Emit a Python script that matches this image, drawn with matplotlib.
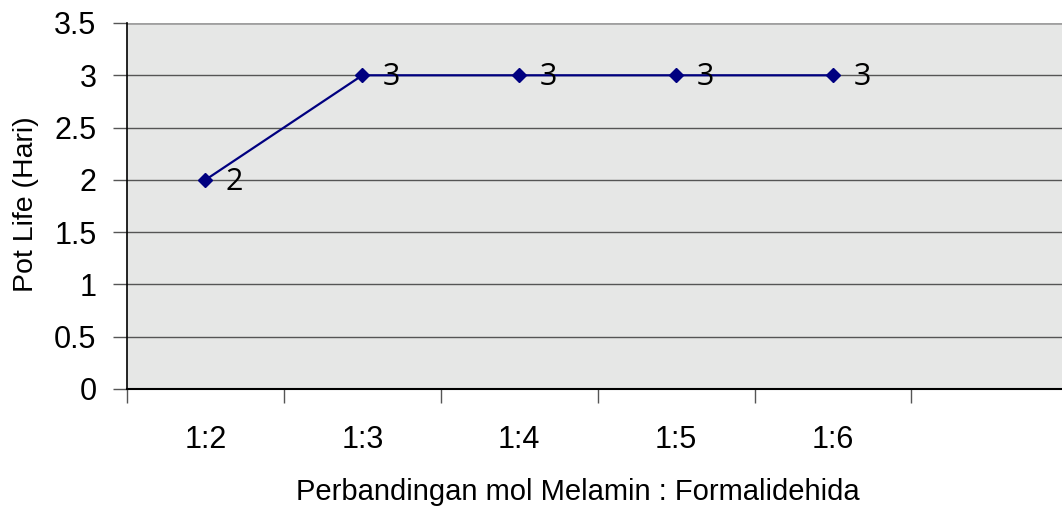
import numpy as np
import matplotlib.pyplot as plt

# data
ratios = ['1:2', '1:3', '1:4', '1:5', '1:6']
pot_life = [2, 3, 3, 3, 3]

plt.rcParams['font.family'] = ['Liberation Sans', 'DejaVu Sans']

fig = plt.figure(figsize=(10.62, 5.09), dpi=100)
ax = fig.add_axes([127 / 1062, 1 - 389 / 509, 1 - 127 / 1062, (389 - 23) / 509])
ax.set_facecolor('#e6e7e6')

x = np.arange(len(ratios))
ax.plot(x, pot_life, color='#000080', lw=1.6, marker='D', markersize=7.5, zorder=3)

for xi, yi in zip(x, pot_life):
    ax.text(xi + 0.185, yi - 0.02, str(yi), fontsize=22, family=['Open Sans', 'DejaVu Sans'],
            ha='center', va='center', zorder=4)

ax.set_xlim(-0.5, 5.46)
ax.set_ylim(0, 3.5)

# horizontal gridlines
for yv in np.arange(0.5, 3.01, 0.5):
    ax.axhline(yv, color='#555555', lw=1, zorder=1)
ax.axhline(3.5, color='#a0a0a0', lw=2, zorder=1)

# axes
for s in ['top', 'right']:
    ax.spines[s].set_visible(False)
ax.spines['left'].set_color('black')
ax.spines['left'].set_linewidth(1.2)
ax.spines['bottom'].set_color('black')
ax.spines['bottom'].set_linewidth(1.5)

ax.set_yticks(np.arange(0, 3.51, 0.5))
ax.set_yticklabels(['0', '0.5', '1', '1.5', '2', '2.5', '3', '3.5'])
ax.tick_params(axis='y', length=10, width=1, color='#555555', labelsize=22, pad=12)

ax.set_xticks(np.arange(-0.5, 5.0, 1.0))
ax.set_xticklabels([])
ax.set_xticks(x, minor=True)
ax.set_xticklabels(ratios, minor=True)
ax.tick_params(axis='x', which='major', length=10, width=1, color='#555555')
ax.tick_params(axis='x', which='minor', length=0, labelsize=22, pad=26)

ax.set_ylabel('Pot Life (Hari)', fontsize=20.5)
ax.set_xlabel('Perbandingan mol Melamin : Formalidehida', fontsize=21)
ax.xaxis.set_label_coords((578 - 127) / 935, -0.282)
ax.xaxis.label.set_va('center')
ax.yaxis.set_label_coords(-(127 - 26) / 935, 0.505)
ax.yaxis.label.set_va('center')

fig.savefig('out.png', dpi=100)
